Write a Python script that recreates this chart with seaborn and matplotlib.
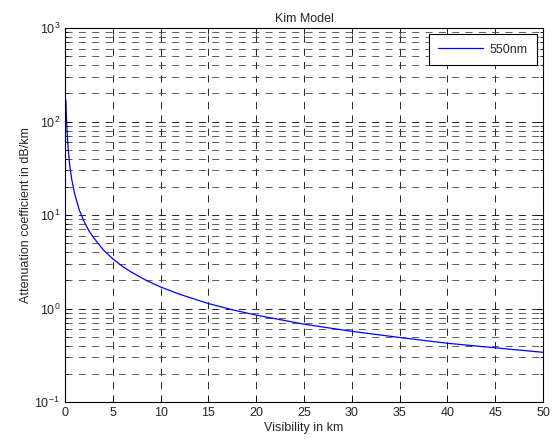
import matplotlib
matplotlib.use("Agg")
import matplotlib.pyplot as plt
import seaborn as sns
import pandas as pd
import numpy as np
from matplotlib.ticker import LogLocator, FixedLocator, NullFormatter

# Visibility (km) and attenuation (dB/km)
visibility = [0.1, 0.15, 0.2, 0.3, 0.4, 0.5, 0.7, 1.0, 1.5, 2.0, 2.5, 3.0, 4.0, 5.0,
              6.0, 7.0, 8.5, 10.0, 12.0, 15.0, 17.5, 20.0, 25.0, 30.0, 35.0, 40.0, 45.0, 50.0]
attenuation = [170, 113, 85, 57, 42.5, 34, 24.3, 17, 11.3, 8.5, 6.8, 5.7, 4.25, 3.4,
               2.83, 2.43, 2.0, 1.7, 1.42, 1.13, 0.97, 0.85, 0.68, 0.57, 0.49, 0.425, 0.38, 0.34]
series_name = "550nm"
x_ticks = [0, 5, 10, 15, 20, 25, 30, 35, 40, 45, 50]

df = pd.DataFrame({"Visibility": visibility, "Attenuation": attenuation,
                   "series": series_name})

sns.set_style("ticks")
plt.rcParams['font.family'] = ['Liberation Sans', 'DejaVu Sans']

fig = plt.figure(figsize=(5.53, 4.41), dpi=100)
ax = fig.add_axes([0.1175, 0.0884, 0.8645, 0.8481])

sns.lineplot(data=df, x="Visibility", y="Attenuation", hue="series",
             palette=["#0000ff"], linewidth=0.9, ax=ax, legend=True)

ax.set_yscale("log")
ax.set_xlim(0, 50)
ax.set_ylim(0.1, 1000)
ax.xaxis.set_major_locator(FixedLocator(x_ticks))
ax.yaxis.set_major_locator(LogLocator(base=10, numticks=10))
ax.yaxis.set_minor_locator(LogLocator(base=10, subs=np.arange(2, 10), numticks=20))
ax.yaxis.set_minor_formatter(NullFormatter())

dash = (0, (8.5, 7.5))
ax.grid(True, which="major", color="black", linestyle=dash, linewidth=0.6)
ax.grid(True, which="minor", axis="y", color="#444444", linestyle=dash, linewidth=0.6)

ax.tick_params(which="both", direction="in", top=True, right=True, labelsize=9,
               color="black", width=0.6)
ax.tick_params(which="major", length=4)
ax.tick_params(which="minor", length=2.5)
for s in ax.spines.values():
    s.set_visible(True)
    s.set_linewidth(0.8)
    s.set_color("black")

ax.set_title("Kim Model", fontsize=9, pad=4)
ax.set_xlabel("Visibility in km", fontsize=9, labelpad=2)
ax.set_ylabel("Attenuation coefficient in dB/km", fontsize=9, labelpad=2)

leg = ax.legend(loc="upper right", fontsize=9, frameon=True, fancybox=False,
                edgecolor="black", framealpha=1, handlelength=3.6,
                handletextpad=0.5, borderpad=0.75, borderaxespad=0.5)
leg.get_frame().set_linewidth(0.8)

fig.savefig("out.png", dpi=100)
